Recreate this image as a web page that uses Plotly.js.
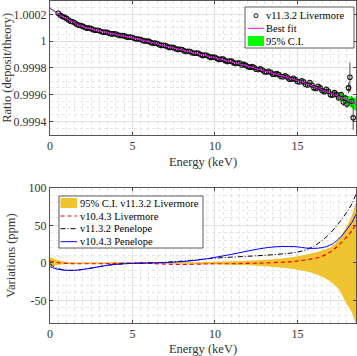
<!DOCTYPE html>
<html>
<head>
<meta charset="utf-8">
<script src="https://cdn.plot.ly/plotly-3.0.1.min.js"></script>
<style>html,body{margin:0;padding:0;background:#fff;}#chart{width:357px;height:356px;}</style>
</head>
<body>
<div id="chart"></div>
<script>
// ---------- DATA ----------
const energyPts = [0.5,0.75,1.0,1.25,1.5,1.75,2.0,2.25,2.5,2.75,3.0,3.25,3.5,3.75,4.0,4.25,4.5,4.75,
  5.0,5.25,5.5,5.75,6.0,6.25,6.5,6.75,7.0,7.25,7.5,7.75,8.0,8.25,8.5,8.75,9.0,9.25,9.5,9.75,
  10.0,10.25,10.5,10.75,11.0,11.25,11.5,11.75,12.0,12.25,12.5,12.75,
  13.0,13.25,13.5,13.75,14.0,14.25,14.5,14.75,
  15.0,15.25,15.5,15.75,16.0,16.25,16.5,16.75,17.0,17.25,17.5,
  17.65,17.78,17.9,18.0,18.1,18.18,18.29,18.38,
  0.625,0.875,1.125,1.375,1.625,1.875,2.125,2.375,2.625,2.875,3.125,3.375,3.625,3.875,4.125,4.375,4.625,4.875,
  5.125,5.375,5.625,5.875,6.125,6.375,6.625,6.875,7.125,7.375,7.625,7.875,8.125,8.375,8.625,8.875,9.125,9.375,9.625,9.875,
  10.125,10.375,10.625,10.875,11.125,11.375,11.625,11.875,12.125,12.375,12.625,12.875,
  13.125,13.375,13.625,13.875,14.125,14.375,14.625,14.875,
  15.125,15.375,15.625,15.875,16.125,16.375,16.625,16.875,17.125,17.375];
const ratioPts = [1.000208,1.000184,1.000170,1.000148,1.000137,1.000119,1.000110,1.000097,1.000093,1.000081,
  1.000077,1.000066,1.000064,1.000054,1.000053,1.000042,1.000039,1.000029,
  1.000027,1.000016,1.000012,1.000001,0.999998,0.999984,0.999982,0.999968,0.999966,0.999953,
  0.999951,0.999938,0.999937,0.999922,0.999922,0.999909,0.999909,0.999893,0.999894,0.999878,
  0.999879,0.999862,0.999865,0.999847,0.999850,0.999832,0.999836,0.999826,0.999808,0.999809,0.999789,0.999792,
  0.999771,0.999774,0.999753,0.999758,0.999735,0.999740,0.999716,0.999722,
  0.999698,0.999704,0.999676,0.999690,0.999650,0.999662,0.999628,0.999640,0.999598,0.999615,0.999575,
  0.999600,0.999545,0.999575,0.999530,0.999650,0.999730,0.999550,0.999426,
  1.000193,1.000179,1.000157,1.000145,1.000126,1.000116,1.000101,1.000097,1.000085,1.000081,
  1.000070,1.000067,1.000057,1.000055,1.000045,1.000042,1.000032,1.000030,
  1.000019,1.000016,1.000004,1.000001,0.999989,0.999985,0.999973,0.999969,0.999957,0.999954,
  0.999942,0.999939,0.999927,0.999924,0.999913,0.999910,0.999899,0.999895,0.999884,0.999880,
  0.999869,0.999865,0.999854,0.999850,0.999839,0.999835,0.999821,0.999819,0.999804,0.999802,0.999787,0.999784,
  0.999769,0.999767,0.999752,0.999749,0.999733,0.999731,0.999715,0.999712,
  0.999694,0.999695,0.999672,0.999671,0.999646,0.999650,0.999622,0.999625,0.999596,0.999600];
const ratioErr = [0.000003,0.000003,0.000003,0.000003,0.000003,0.000003,0.000003,0.000003,0.000003,
  0.000003,0.000003,0.000003,0.000003,0.000003,0.000003,0.000003,0.000003,0.000003,
  0.000004,0.000004,0.000004,0.000004,0.000004,0.000004,0.000004,0.000004,0.000004,0.000004,
  0.000004,0.000004,0.000004,0.000004,0.000004,0.000004,0.000004,0.000004,0.000004,0.000004,
  0.000005,0.000005,0.000005,0.000005,0.000005,0.000005,0.000005,0.000005,0.000005,0.000005,0.000005,0.000005,
  0.000007,0.000007,0.000007,0.000007,0.000007,0.000007,0.000007,0.000007,
  0.00001,0.00001,0.00001,0.00001,0.000015,0.000015,0.000015,0.000015,0.000015,0.000015,0.000015,
  0.00002,0.00003,0.00002,0.00003,0.00004,0.00011,0.00004,0.00009,
  0.000003,0.000003,0.000003,0.000003,0.000003,0.000003,0.000003,0.000003,0.000003,
  0.000003,0.000003,0.000003,0.000003,0.000003,0.000003,0.000003,0.000003,0.000003,
  0.000004,0.000004,0.000004,0.000004,0.000004,0.000004,0.000004,0.000004,0.000004,0.000004,
  0.000004,0.000004,0.000004,0.000004,0.000004,0.000004,0.000004,0.000004,0.000004,0.000004,
  0.000005,0.000005,0.000005,0.000005,0.000005,0.000005,0.000005,0.000005,0.000005,0.000005,0.000005,0.000005,
  0.000007,0.000007,0.000007,0.000007,0.000007,0.000007,0.000007,0.000007,
  0.00001,0.00001,0.00001,0.00001,0.000015,0.000015,0.000015,0.000015,0.000015,0.000015];

const fitEnergy = [0,0.5,1,1.5,2,3,4,5,6,7,8,9,10,11,12,13,14,15,16,17,17.5,18,18.55];
const fitRatio  = [1.000245,1.000205,1.000168,1.000135,1.000108,1.000075,1.000050,1.000025,0.999995,0.999963,
  0.999933,0.999905,0.999875,0.999845,0.999812,0.999777,0.999742,0.999705,0.999660,0.999612,0.999586,0.999560,0.999527];
const ciHigh = [1.000251,1.000209,1.000171,1.0001375,1.000110,1.000077,1.000052,1.000027,0.999997,0.999965,
  0.999935,0.999907,0.999877,0.9998475,0.999815,0.9997805,0.9997465,0.999711,0.999669,0.999628,0.999608,0.999592,0.999577];
const ciLow  = [1.000239,1.000201,1.000165,1.0001325,1.000106,1.000073,1.000048,1.000023,0.999993,0.999961,
  0.999931,0.999903,0.999873,0.9998425,0.999809,0.9997735,0.9997375,0.999699,0.999651,0.999596,0.999564,0.999528,0.999477];

const varEnergy = [0,0.25,0.5,1,1.5,2,2.5,3,3.5,4,5,6,7,8,9,10,11,12,13,14,14.5,15,15.5,16,16.5,17,17.5,18,18.3,18.55];
const ciLivUp = [8,5.5,3.5,1.2,0.8,0.8,0.8,0.8,0.8,0.8,0.8,0.8,0.8,0.9,1.1,1.5,2.2,3,4.2,6,7.3,9,11,13.5,17,21,31,50,63,80];
const ciLivLo = [-5.5,-4,-2.5,-1.2,-1,-1,-1,-1,-1,-1,-1,-1,-1,-1.1,-1.3,-1.6,-2.3,-3,-4.2,-6,-7.5,-9,-11,-14,-18.5,-25,-35,-55,-66,-80];
const liv1043 = [3,1.5,0.5,-0.5,-1,-1,-1,-1,-0.8,-0.5,0,-0.5,-1.5,-2,-1.5,-1,-1,-0.5,0,1,1.5,2.5,4,6,9,15,24,35,43,52];
const pen1132 = [-1,-5,-7.5,-9.5,-9.8,-8.5,-6.8,-4.8,-3,-1.8,-0.5,0.2,1,2.5,4.5,6.5,7.8,9,10.2,12,13,14.5,17.5,22.5,30,40,53,68,79,92];
const pen1043 = [-5,-7,-8.5,-9.8,-9.8,-8.5,-6.8,-4.8,-3,-1.8,-0.5,0,0.5,1.8,4,7.5,11.5,16,20,22,22,21.5,20,19.5,20.5,24,32,45,54,65];

const xTicks = [0,5,10,15];
const xTickText = ['0','5','10','15'];
const yTopTicks = [0.9994,0.9996,0.9998,1,1.0002];
const yTopTickText = ['0.9994','0.9996','0.9998','1','1.0002'];
const yBotTicks = [-50,0,50,100];
const yBotTickText = ['-50','0','50','100'];

const xTitle = 'Energy (keV)';
const yTopTitle = 'Ratio (deposit/theory)';
const yBotTitle = 'Variations (ppm)';
const topNames = ['v11.3.2 Livermore','Best fit','95% C.I.'];
const botNames = ['95% C.I. v11.3.2 Livermore','v10.4.3 Livermore','v11.3.2 Penelope','v10.4.3 Penelope'];

// ---------- STYLE ----------
const FONT = 'Liberation Serif';
const TXT = '#333333';
const W = 357, H = 356, ML = 50, MR = 1, MT = 1, MB = 33;
const PW = W - ML - MR, PH = H - MT - MB;
const fx = px => (px - ML) / PW;
const fy = py => (H - MB - py) / PH;
const GOLD = '#EFC430';

const traces = [
  {x: fitEnergy.concat(fitEnergy.slice().reverse()), y: ciHigh.concat(ciLow.slice().reverse()),
   type:'scatter', mode:'lines', fill:'toself', fillcolor:'#00ff00', line:{width:0, color:'#00ff00'},
   name: topNames[2], xaxis:'x', yaxis:'y', showlegend:false, hoverinfo:'skip'},
  {x: energyPts, y: ratioPts, type:'scatter', mode:'markers', name: topNames[0],
   marker:{symbol:'circle-open', size:4.5, color:'#111', line:{width:1.1, color:'#111'}},
   error_y:{type:'data', array: ratioErr, visible:true, color:'#222', thickness:0.8, width:0},
   xaxis:'x', yaxis:'y', showlegend:false},
  {x: fitEnergy, y: fitRatio, type:'scatter', mode:'lines', name: topNames[1],
   line:{color:'#ff00ff', width:1, shape:'spline'}, xaxis:'x', yaxis:'y', showlegend:false},

  {x: varEnergy.concat(varEnergy.slice().reverse()), y: ciLivUp.concat(ciLivLo.slice().reverse()),
   type:'scatter', mode:'lines', fill:'toself', fillcolor:GOLD, line:{width:0, color:GOLD, shape:'spline'},
   name: botNames[0], xaxis:'x2', yaxis:'y2', showlegend:false, hoverinfo:'skip'},
  {x: varEnergy, y: liv1043, type:'scatter', mode:'lines', name: botNames[1],
   line:{color:'#ff0000', width:1.2, dash:'4px,3px', shape:'spline'}, xaxis:'x2', yaxis:'y2', showlegend:false},
  {x: varEnergy, y: pen1132, type:'scatter', mode:'lines', name: botNames[2],
   line:{color:'#000000', width:1, dash:'5px,2px,1px,2px', shape:'spline'}, xaxis:'x2', yaxis:'y2', showlegend:false},
  {x: varEnergy, y: pen1043, type:'scatter', mode:'lines', name: botNames[3],
   line:{color:'#0000ff', width:1, shape:'spline'}, xaxis:'x2', yaxis:'y2', showlegend:false}
];

function xAxis(anchor){
  return {anchor: anchor, range:[0,18.55], tickvals:xTicks, ticktext:xTickText,
    ticks:'inside', ticklen:3, tickcolor:'#444', showline:true, linecolor:'#555', linewidth:1, mirror:'ticks',
    showgrid:true, gridcolor:'#e0e0e0', gridwidth:1, zeroline:false,
    minor:{dtick:0.5, showgrid:true, gridcolor:'#e4e4e4', griddash:'dot', gridwidth:1},
    tickfont:{family:FONT, size:12, color:TXT},
    title:{text:xTitle, font:{family:FONT, size:12.5, color:TXT}, standoff:5}};
}
function yAxis(anchor, domain, range, tv, tt, minorStep, title, standoff){
  return {anchor: anchor, domain: domain, range: range, tickvals: tv, ticktext: tt,
    ticks:'inside', ticklen:3, tickcolor:'#444', showline:true, linecolor:'#555', linewidth:1, mirror:'ticks',
    showgrid:true, gridcolor:'#e0e0e0', gridwidth:1, zeroline:false,
    minor:{dtick:minorStep, showgrid:true, gridcolor:'#e4e4e4', griddash:'dot', gridwidth:1},
    tickfont:{family:FONT, size:12, color:TXT},
    title:{text:title, font:{family:FONT, size:12.5, color:TXT}, standoff: standoff}};
}

const shapes = [], annotations = [];
function legendText(txt, px, py){
  annotations.push({xref:'paper', yref:'paper', x:fx(px), y:fy(py), xanchor:'left', yanchor:'middle',
    text:txt, showarrow:false, font:{family:FONT, size:10.5, color:'#000'}});
}
// top legend
shapes.push({type:'rect', xref:'paper', yref:'paper', x0:fx(245), x1:fx(354), y0:fy(48), y1:fy(7),
  line:{color:'#333', width:0.8}, fillcolor:'#fff', layer:'above'});
shapes.push({type:'circle', xref:'paper', yref:'paper', x0:fx(254), x1:fx(258), y0:fy(17.7), y1:fy(13.7),
  line:{color:'#111', width:1}, fillcolor:'#fff', layer:'above'});
legendText(topNames[0], 264, 15.7);
shapes.push({type:'line', xref:'paper', yref:'paper', x0:fx(248), x1:fx(264), y0:fy(28.3), y1:fy(28.3),
  line:{color:'#ff00ff', width:1}, layer:'above'});
legendText(topNames[1], 264, 28.3);
shapes.push({type:'rect', xref:'paper', yref:'paper', x0:fx(248), x1:fx(264), y0:fy(46), y1:fy(36),
  line:{width:0}, fillcolor:'#00ff00', layer:'above'});
legendText(topNames[2], 264, 41);
// bottom legend
shapes.push({type:'rect', xref:'paper', yref:'paper', x0:fx(59), x1:fx(203), y0:fy(248), y1:fy(196),
  line:{color:'#333', width:0.8}, fillcolor:'#fff', layer:'above'});
shapes.push({type:'rect', xref:'paper', yref:'paper', x0:fx(60.5), x1:fx(77), y0:fy(208), y1:fy(198),
  line:{width:0}, fillcolor:GOLD, layer:'above'});
legendText(botNames[0], 78, 203);
shapes.push({type:'line', xref:'paper', yref:'paper', x0:fx(60.5), x1:fx(77), y0:fy(216), y1:fy(216),
  line:{color:'#ff0000', width:1.2, dash:'4px,3px'}, layer:'above'});
legendText(botNames[1], 78, 216);
shapes.push({type:'line', xref:'paper', yref:'paper', x0:fx(60.5), x1:fx(77), y0:fy(228.7), y1:fy(228.7),
  line:{color:'#000', width:1, dash:'5px,2px,1px,2px'}, layer:'above'});
legendText(botNames[2], 78, 228.7);
shapes.push({type:'line', xref:'paper', yref:'paper', x0:fx(60.5), x1:fx(77), y0:fy(241.7), y1:fy(241.7),
  line:{color:'#0000ff', width:1}, layer:'above'});
legendText(botNames[3], 78, 241.7);

const layout = {
  width:W, height:H, margin:{l:ML, r:MR, t:MT, b:MB, pad:0},
  paper_bgcolor:'#fff', plot_bgcolor:'#fff', showlegend:false,
  font:{family:FONT, size:12, color:TXT},
  xaxis: xAxis('y'),
  yaxis: yAxis('x', [0.5848,1], [0.9993,1.0003], yTopTicks, yTopTickText, 0.00005, yTopTitle, 2),
  xaxis2: xAxis('y2'),
  yaxis2: yAxis('x2', [0,0.4193], [-80,100], yBotTicks, yBotTickText, 10, yBotTitle, 10),
  shapes: shapes, annotations: annotations
};

Plotly.newPlot('chart', traces, layout, {displayModeBar:false, staticPlot:true});
</script>
</body>
</html>
